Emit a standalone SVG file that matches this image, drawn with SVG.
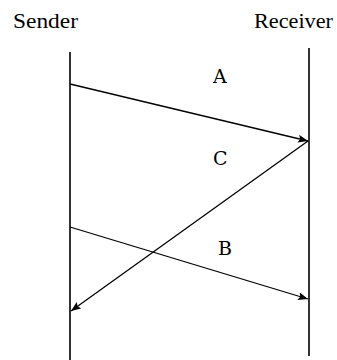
<svg xmlns="http://www.w3.org/2000/svg" width="337" height="360" viewBox="0 0 337 360">
  <style>
    .t { font-family: 'DejaVu Serif', 'Liberation Serif', serif; font-size: 19px; fill: #000; }
    .h { font-family: 'Liberation Serif', 'Times New Roman', serif; font-size: 22px; fill: #000; }
    .life { stroke: #000; stroke-width: 1.6; fill: none; }
    .msg { stroke: #000; stroke-width: 1.3; fill: none; marker-end: url(#ah); }
  </style>
  <defs>
    <marker id="ah" viewBox="0 0 10 8" refX="10" refY="4" markerWidth="10" markerHeight="8" markerUnits="userSpaceOnUse" orient="auto">
      <path d="M0,0 L10,4 L0,8 L2,4 Z" fill="#000"/>
    </marker>
  </defs>
  <rect width="337" height="360" fill="#fff"/>
  <g id="sender">
    <text class="h" x="13" y="28" textLength="65" lengthAdjust="spacingAndGlyphs">Sender</text>
    <line class="life" x1="70" y1="52" x2="70" y2="360"/>
  </g>
  <g id="receiver">
    <text class="h" x="254" y="28" textLength="79" lengthAdjust="spacingAndGlyphs">Receiver</text>
    <line class="life" x1="309" y1="48" x2="309" y2="356"/>
  </g>
  <g id="labels">
    <text class="t" x="213" y="83">A</text>
    <text class="t" x="213" y="165">C</text>
    <text class="t" x="218" y="255">B</text>
  </g>
  <g id="connectors">
    <line class="msg" x1="70" y1="84" x2="308" y2="141"/>
    <line class="msg" x1="308" y1="141" x2="71" y2="311"/>
    <line class="msg" x1="70" y1="227" x2="308" y2="299"/>
  </g>
</svg>
